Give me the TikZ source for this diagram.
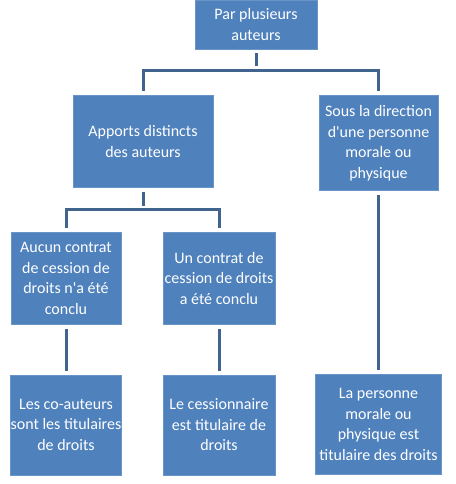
\documentclass[tikz,border=0pt]{standalone}
\usepackage{fontspec}
\setmainfont{Carlito}
\usetikzlibrary{positioning}
\definecolor{boxblue}{HTML}{4F81BD}
\definecolor{linkblue}{HTML}{41648F}

\begin{document}
\begin{tikzpicture}[x=1pt, y=1pt,
    box/.style={rectangle, fill=boxblue, draw=boxblue!85!white, line width=0.6pt,
      text=white, align=center, inner sep=0pt,
      font=\fontsize{16}{20.5}\selectfont},
    link/.style={draw=linkblue, line width=3pt, shorten <=4pt, shorten >=4pt}]

  \useasboundingbox (0,0) rectangle (455,-484);

  % Define nodes
  \node[box, minimum width=122pt, minimum height=49pt] (top) at (256,-24.5) {Par plusieurs\\auteurs};
  \node[box, minimum width=140pt, minimum height=92pt, below=46pt of top, xshift=-113pt] (apports) {Apports distincts\\des auteurs};
  \node[box, minimum width=119pt, minimum height=95pt, below=46pt of top, xshift=122.5pt] (sous) {Sous la direction\\d\textquotesingle une personne\\morale ou\\physique};
  \node[box, minimum width=110pt, minimum height=92pt, below=44pt of apports, xshift=-77pt] (aucun) {Aucun contrat\\de cession de\\droits n\textquotesingle a été\\conclu};
  \node[box, minimum width=112pt, minimum height=92pt, below=44pt of apports, xshift=76pt] (contrat) {Un contrat de\\cession de droits\\a été conclu};
  \node[box, minimum width=111pt, minimum height=100pt, below=50pt of aucun] (coauteurs) {Les co-auteurs\\sont les titulaires\\de droits};
  \node[box, minimum width=112pt, minimum height=100pt, below=50pt of contrat] (cessionnaire) {Le cessionnaire\\est titulaire de\\droits};
  \node[box, minimum width=126pt, minimum height=100pt, below=183pt of sous] (personne) {La personne\\morale ou\\physique est\\titulaire des droits};

  % Junctions
  \coordinate[below=21pt of top] (j1);
  \coordinate[below=22pt of apports] (j2);

  % Connect the nodes
  \draw[link] (top) -- (j1);
  \draw[link] (apports) |- (j1) -| (sous);
  \draw[link] (apports) -- (j2);
  \draw[link] (aucun) |- (j2) -| (contrat);
  \draw[link] (aucun) -- (coauteurs);
  \draw[link] (contrat) -- (cessionnaire);
  \draw[link] (sous) -- (personne);

\end{tikzpicture}
\end{document}
